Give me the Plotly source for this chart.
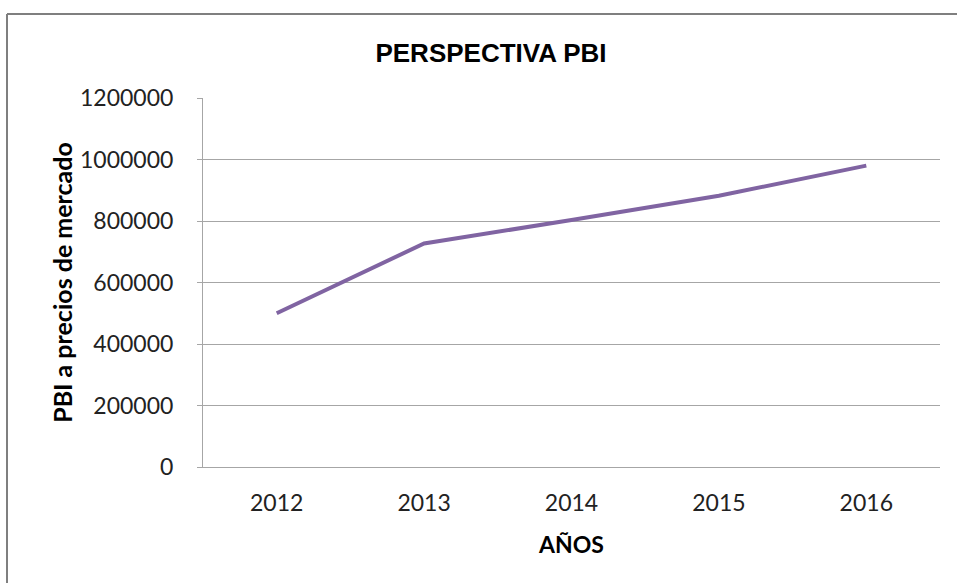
import plotly.graph_objects as go

years = ["2012", "2013", "2014", "2015", "2016"]
pbi = [500000, 727000, 803000, 882000, 980000]
y_ticks = [0, 200000, 400000, 600000, 800000, 1000000, 1200000]

fig = go.Figure()
fig.add_trace(go.Scatter(
    x=years, y=pbi, mode="lines",
    line=dict(color="#8064A2", width=4),
    showlegend=False,
))

font_main = "Lato, 'Open Sans', sans-serif"
font_title = "'Liberation Sans', Arial, sans-serif"

FW, FH = 957, 583
L, T, W, H = 203, 98, 737, 369

fig.update_layout(
    width=FW, height=FH,
    margin=dict(l=L, r=FW - L - W, t=T, b=FH - T - H),
    paper_bgcolor="white", plot_bgcolor="white",
    title=dict(text="<b>PERSPECTIVA PBI</b>", x=(491 / FW), xanchor="center",
               y=1 - 53 / FH, yanchor="middle",
               font=dict(family=font_title, size=26, color="black")),
    xaxis=dict(
        type="category", range=[-0.5, 4.5],
        showgrid=False, showline=True, linecolor="#a6a6a6", linewidth=1,
        ticks="", tickfont=dict(family=font_main, size=23, color="#222"),
        ticklabelstandoff=15,
        title=dict(text="<b>AÑOS</b>", standoff=22,
                   font=dict(family=font_main, size=23, color="black")),
        fixedrange=True,
    ),
    yaxis=dict(
        range=[0, 1200000], tickvals=y_ticks,
        tickformat="d",
        showgrid=True, gridcolor="#a6a6a6", gridwidth=1,
        showline=True, linecolor="#a6a6a6", linewidth=1,
        ticks="outside", ticklen=5, tickcolor="#a6a6a6",
        tickfont=dict(family=font_main, size=23, color="#222"),
        ticklabelstandoff=19,
        zeroline=False,
        title=dict(text="<b>PBI a precios de mercado</b>", standoff=0,
                   font=dict(family=font_main, size=25, color="black")),
        fixedrange=True,
    ),
)

# outer chart border (top and left visible)
bx = (7 - L) / W
by = (T + H - 14) / H
fig.add_shape(type="line", xref="paper", yref="paper",
              x0=bx, x1=1.3, y0=by, y1=by,
              line=dict(color="#7f7f7f", width=2))
fig.add_shape(type="line", xref="paper", yref="paper",
              x0=bx, x1=bx, y0=by, y1=-0.5,
              line=dict(color="#7f7f7f", width=2))

fig.write_html(
    "out.html",
    config={"displayModeBar": False},
    post_script="document.body.style.margin='0';document.body.style.overflow='hidden';",
)
